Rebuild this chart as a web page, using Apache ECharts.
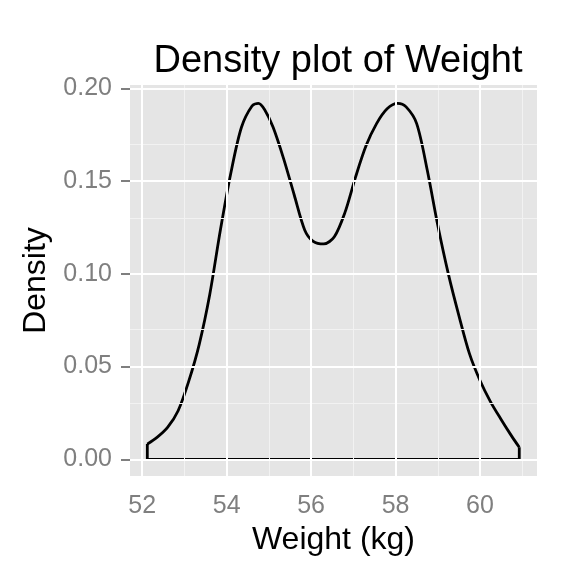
<!DOCTYPE html>
<html>
<head>
<meta charset="utf-8">
<title>Density plot of Weight</title>
<script src="https://cdn.jsdelivr.net/npm/echarts@6/dist/echarts.min.js"></script>
<style>
    html, body { margin: 0; padding: 0; background: #fff; }
    #chart { width: 576px; height: 576px; }
</style>
</head>
<body>
<div id="chart"></div>
<script>
// density curve
var weights = [52.12, 52.35, 52.6, 52.85, 53.1, 53.35, 53.6, 53.85, 54.1, 54.35, 54.6, 54.75,
    54.9, 55.1, 55.35, 55.6, 55.85, 56.05, 56.3, 56.55, 56.8, 57.05, 57.3, 57.55, 57.8, 58.05,
    58.25, 58.5, 58.75, 59.0, 59.25, 59.5, 59.75, 60.0, 60.25, 60.5, 60.75, 60.93];
var densities = [0.0082, 0.0118, 0.0172, 0.0262, 0.0420, 0.0620, 0.0890, 0.1235, 0.1545, 0.1790, 0.1905, 0.1919,
    0.1885, 0.1790, 0.1620, 0.1425, 0.1235, 0.1175, 0.1161, 0.1200, 0.1330, 0.1520, 0.1690, 0.1810, 0.1890, 0.1919,
    0.1900, 0.1810, 0.1560, 0.1262, 0.1000, 0.0775, 0.0570, 0.0425, 0.0310, 0.0215, 0.0125, 0.0065];

var xMajor = [52, 54, 56, 58, 60];
var xMinor = [53, 55, 57, 59, 61];
var yMajor = [0, 0.05, 0.10, 0.15, 0.20];
var yMinor = [0.025, 0.075, 0.125, 0.175];

var xRange = [51.71, 61.35];
var yRange = [-0.009, 0.2018];

var font = "'Liberation Sans', Arial, sans-serif";

var curve = [];
for (var i = 0; i < weights.length; i++) {
    curve.push([weights[i], densities[i]]);
}
var last = weights.length - 1;
var edges = [
    [weights[0], densities[0]],
    [weights[0], 0],
    [weights[last], 0],
    [weights[last], densities[last]]
];

function gridLines(values, key, color, width) {
    return values.map(function (v) {
        var d = {lineStyle: {color: color, width: width, type: 'solid'}};
        d[key] = v;
        return d;
    });
}

var lines = []
    .concat(gridLines(xMinor, 'xAxis', '#f2f2f2', 1))
    .concat(gridLines(yMinor, 'yAxis', '#f2f2f2', 1))
    .concat(gridLines(xMajor, 'xAxis', '#ffffff', 2))
    .concat(gridLines(yMajor, 'yAxis', '#ffffff', 2));

var option = {
    animation: false,
    backgroundColor: '#ffffff',
    title: {
        text: 'Density plot of Weight',
        left: 333,
        top: 38,
        textAlign: 'center',
        textStyle: {
            fontFamily: font,
            fontSize: 38,
            fontWeight: 'normal',
            color: '#000'
        }
    },
    grid: {
        left: 130,
        right: 39,
        top: 85,
        bottom: 100,
        show: true,
        backgroundColor: '#e5e5e5',
        borderWidth: 0
    },
    xAxis: {
        type: 'value',
        min: xRange[0],
        max: xRange[1],
        name: 'Weight (kg)',
        nameLocation: 'middle',
        nameGap: 36,
        nameTextStyle: {fontFamily: font, fontSize: 32, color: '#000'},
        axisLine: {show: false},
        splitLine: {show: false},
        axisTick: {
            show: true,
            length: 9,
            customValues: xMajor,
            lineStyle: {color: '#7f7f7f', width: 2}
        },
        axisLabel: {
            customValues: xMajor,
            margin: 18,
            fontFamily: font,
            fontSize: 25,
            color: '#7f7f7f'
        }
    },
    yAxis: {
        type: 'value',
        min: yRange[0],
        max: yRange[1],
        name: 'Density',
        nameLocation: 'middle',
        nameGap: 68,
        nameTextStyle: {fontFamily: font, fontSize: 32, color: '#000'},
        axisLine: {show: false},
        splitLine: {show: false},
        axisTick: {
            show: true,
            length: 9,
            customValues: yMajor,
            lineStyle: {color: '#7f7f7f', width: 2}
        },
        axisLabel: {
            customValues: yMajor,
            margin: 18,
            fontFamily: font,
            fontSize: 25,
            color: '#7f7f7f',
            formatter: function (v) { return v.toFixed(2); }
        }
    },
    series: [
        {
            name: 'grid',
            type: 'line',
            data: [],
            z: 1,
            silent: true,
            markLine: {
                silent: true,
                symbol: 'none',
                animation: false,
                label: {show: false},
                data: lines
            }
        },
        {
            name: 'density',
            type: 'line',
            data: curve,
            smooth: 0.3,
            symbol: 'none',
            z: 3,
            lineStyle: {color: '#000', width: 2.8}
        },
        {
            name: 'edges',
            type: 'line',
            data: edges,
            symbol: 'none',
            z: 3,
            lineStyle: {color: '#000', width: 2.8}
        }
    ]
};

var chart = echarts.init(document.getElementById('chart'));
chart.setOption(option);
</script>
</body>
</html>
